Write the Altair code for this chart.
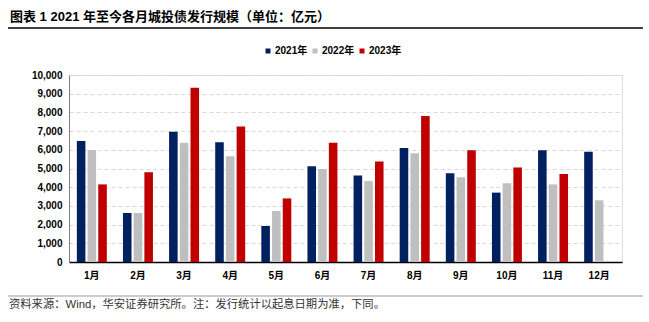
import altair as alt
import pandas as pd

months = ["1月", "2月", "3月", "4月", "5月", "6月", "7月", "8月", "9月", "10月", "11月", "12月"]
years = ["2021年", "2022年", "2023年"]
colors = ["#002060", "#BFBFBF", "#C00000"]

v2021 = [6470, 2620, 6970, 6400, 1925, 5115, 4630, 6100, 4740, 3710, 5970, 5900]
v2022 = [5990, 2620, 6380, 5650, 2730, 4970, 4330, 5810, 4530, 4210, 4150, 3300]
v2023 = [4150, 4800, 9320, 7250, 3400, 6380, 5380, 7810, 5970, 5060, 4710, None]

y_ticks = [0, 1000, 2000, 3000, 4000, 5000, 6000, 7000, 8000, 9000, 10000]

title_text = "图表 1 2021 年至今各月城投债发行规模（单位：亿元）"
source_text = "资料来源：Wind，华安证券研究所。注：发行统计以起息日期为准，下同。"

rows = []
for yr, vals in zip(years, [v2021, v2022, v2023]):
    for m, v in zip(months, vals):
        if v is not None:
            rows.append({"month": m, "year": yr, "value": v})
df = pd.DataFrame(rows)

FONT = "Liberation Sans, Noto Sans CJK SC, sans-serif"

bars = alt.Chart(df).mark_bar().encode(
    x=alt.X("month:N", sort=months, title=None,
            scale=alt.Scale(paddingInner=0.35, paddingOuter=0.17),
            axis=alt.Axis(labelAngle=0, labelFontSize=10, labelFontWeight="bold",
                          labelColor="#000000", labelPadding=8, ticks=False,
                          domainColor="#000000", domainWidth=1.5, grid=False,
                          labelFont=FONT)),
    xOffset=alt.XOffset("year:N", sort=years,
                        scale=alt.Scale(paddingInner=0.2, paddingOuter=0)),
    y=alt.Y("value:Q", title=None,
            scale=alt.Scale(domain=[0, 10000], nice=False),
            axis=alt.Axis(values=y_ticks, format=",d", labelFontSize=10,
                          labelFontWeight="bold", labelColor="#000000",
                          labelPadding=7, ticks=False, domainColor="#7f7f7f",
                          domainWidth=1, grid=True, gridColor="#d9d9d9",
                          gridDash=[4, 3], gridWidth=1, labelFont=FONT)),
    color=alt.Color("year:N", sort=years,
                    scale=alt.Scale(domain=years, range=colors),
                    legend=alt.Legend(title=None, orient="none", legendX=194,
                                      legendY=-29, direction="horizontal",
                                      symbolType="square", symbolSize=25,
                                      symbolStrokeWidth=0, labelFontSize=10,
                                      labelFontWeight="bold", labelColor="#000000",
                                      labelOffset=2, columnPadding=2,
                                      labelFont=FONT)),
)

title = alt.Chart(pd.DataFrame({"t": [title_text]})).mark_text(
    align="left", baseline="middle", fontSize=13, fontWeight="bold",
    font=FONT, color="#000000"
).encode(text="t:N", x=alt.value(-59), y=alt.value(-58))

title_rule = alt.Chart(pd.DataFrame({"a": [0]})).mark_rule(
    color="#000000", strokeWidth=1.5
).encode(x=alt.value(-61), x2=alt.value(574), y=alt.value(-47))

foot_rule = alt.Chart(pd.DataFrame({"a": [0]})).mark_rule(
    color="#999999", strokeWidth=1
).encode(x=alt.value(-61), x2=alt.value(574), y=alt.value(221))

source = alt.Chart(pd.DataFrame({"t": [source_text]})).mark_text(
    align="left", baseline="middle", fontSize=11.3, font=FONT, color="#333333"
).encode(text="t:N", x=alt.value(-60), y=alt.value(230))

chart = alt.layer(bars, title, title_rule, foot_rule, source).properties(
    width=553, height=187,
    autosize="none",
    padding={"left": 69, "top": 75, "right": 27, "bottom": 60},
).configure_view(stroke=None).configure(background="#ffffff")

chart.save("out.html", embed_options={"renderer": "svg", "actions": False})
